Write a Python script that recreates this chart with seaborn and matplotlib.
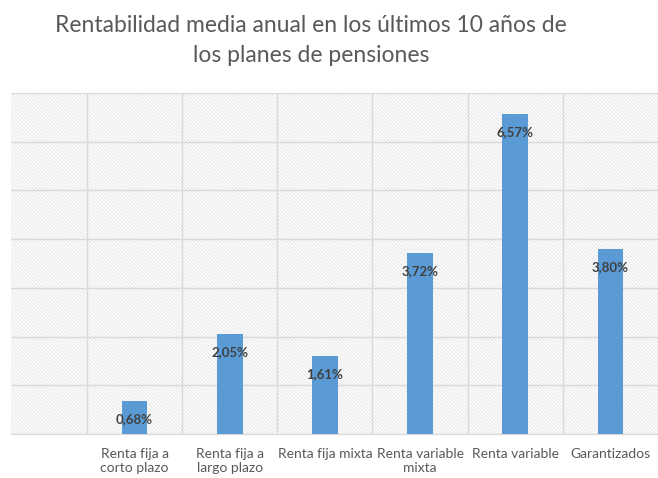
import numpy as np
import pandas as pd
import seaborn as sns
import matplotlib.pyplot as plt
from matplotlib.patches import Rectangle

categorias = ["Renta fija a\ncorto plazo", "Renta fija a\nlargo plazo", "Renta fija mixta",
              "Renta variable\nmixta", "Renta variable", "Garantizados"]
rentabilidad = [0.68, 2.05, 1.61, 3.72, 6.57, 3.80]
etiquetas = ["0,68%", "2,05%", "1,61%", "3,72%", "6,57%", "3,80%"]

df = pd.DataFrame({"categoria": categorias, "rentabilidad": rentabilidad})

sns.set_style("white")
plt.rcParams["font.family"] = ["Lato", "DejaVu Sans"]
plt.rcParams["hatch.linewidth"] = 0.5

fig = plt.figure(figsize=(6.58, 4.78), dpi=100)
ax = fig.add_axes([11 / 658, 44 / 478, 647 / 658, 341 / 478])

# fondo rayado fino
ax.add_patch(Rectangle((0, 0), 1, 1, transform=ax.transAxes, facecolor="#fbfbfb",
                       edgecolor="#e2e2e2", hatch="\\" * 9, linewidth=0, zorder=0))

sns.barplot(data=df, x="categoria", y="rentabilidad", color="#5B9BD5", width=0.27,
            saturation=1, linewidth=0, ax=ax, zorder=3)

ax.set_xlim(-1.298, 5.41)
ax.set_ylim(0, 7)
ax.set_yticks(np.arange(0, 8, 1))
ax.set_yticklabels([])
ax.tick_params(axis="y", length=0)
ax.set_xticks(np.arange(-0.5, 6, 1), minor=True)
ax.tick_params(axis="x", which="both", length=0, pad=10, labelsize=10, labelcolor="#595959")
ax.grid(axis="y", which="major", color="#d9d9d9", linewidth=1, zorder=1)
ax.grid(axis="x", which="minor", color="#d9d9d9", linewidth=1, zorder=1)
ax.set_axisbelow(True)
ax.set_xlabel("")
ax.set_ylabel("")
for s in ["top", "right", "left"]:
    ax.spines[s].set_visible(False)
ax.spines["bottom"].set_color("#d9d9d9")

for i, (v, t) in enumerate(zip(rentabilidad, etiquetas)):
    ax.annotate(t, (i, v), xytext=(0, -13), textcoords="offset points", ha="center",
                va="center", fontsize=9.5, fontweight="bold", color="#404040", zorder=5)

fig.text(0.473, 0.968, "Rentabilidad media anual en los últimos 10 años de\nlos planes de pensiones",
         ha="center", va="top", fontsize=16.5, color="#595959", linespacing=1.5)

fig.savefig("out.png", dpi=100)
